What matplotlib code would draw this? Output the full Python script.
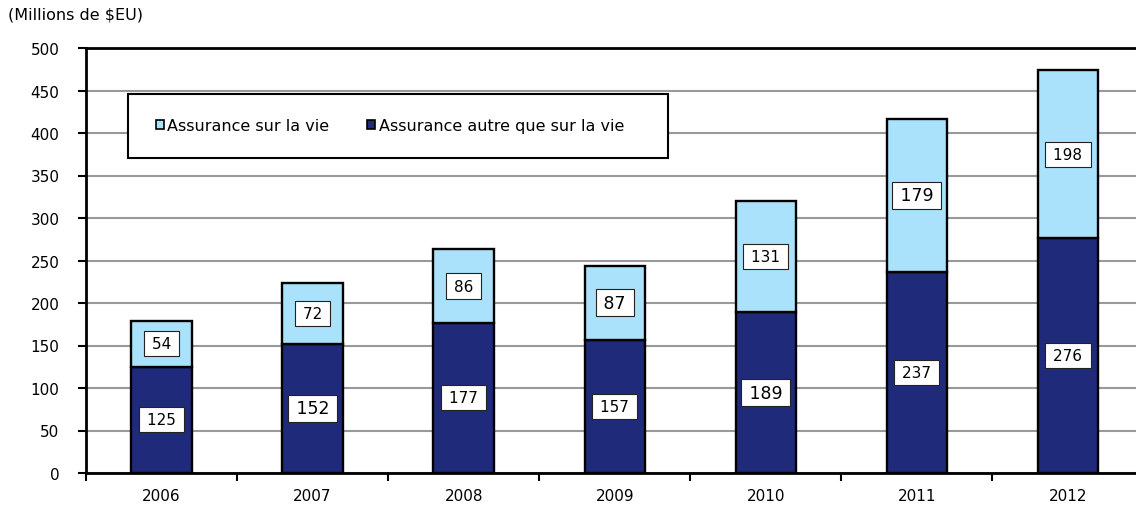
import matplotlib
matplotlib.use("Agg")
import matplotlib.pyplot as plt
from matplotlib.patches import Rectangle, Patch
import numpy as np

# données du graphique
annees = ['2006', '2007', '2008', '2009', '2010', '2011', '2012']
non_vie = [125, 152, 177, 157, 189, 237, 276]
vie = [54, 72, 86, 87, 131, 179, 198]
# étiquettes écrites en plus gros dans l'original
grosses_vie = [3, 5]
grosses_non_vie = [1, 4]

col_vie = '#aae1fb'
col_non_vie = '#202a7a'

plt.rcParams['font.family'] = 'DejaVu Sans'

fig = plt.figure(figsize=(11.36, 5.06), dpi=100)
ax = fig.add_axes([86 / 1136, 32 / 506, 1057.5 / 1136, 425 / 506])

x = np.arange(len(annees))
ax.bar(x, non_vie, width=0.4, color=col_non_vie, edgecolor='black', linewidth=1.7, zorder=3)
ax.bar(x, vie, width=0.4, bottom=non_vie, color=col_vie, edgecolor='black', linewidth=1.7, zorder=3)


def etiquette(xx, yy, val, gros):
    fs, pad = (12.5, 0.25) if gros else (11, 0.33)
    txt = '\u2009' + str(val) + '\u2009'
    ax.text(xx, yy, txt, ha='center', va='center', fontsize=fs, zorder=5,
            bbox=dict(boxstyle='square,pad=%.2f' % pad, facecolor='white',
                      edgecolor='#222222', linewidth=0.8))


for i in range(len(annees)):
    etiquette(x[i], non_vie[i] / 2, non_vie[i], i in grosses_non_vie)
    etiquette(x[i], non_vie[i] + vie[i] / 2, vie[i], i in grosses_vie)

ax.set_xlim(-0.5, len(annees) - 0.5)
ax.set_ylim(0, 500)
ax.set_yticks(np.arange(0, 501, 50))
ax.yaxis.grid(True, color='#999999', linewidth=1.5, zorder=0)
ax.set_axisbelow(True)

ax.set_xticks(x)
ax.set_xticklabels(annees)
ax.set_xticks(np.arange(-0.5, len(annees), 1), minor=True)
ax.tick_params(axis='x', which='major', length=0, pad=11, labelsize=11)
ax.tick_params(axis='x', which='minor', length=6, width=1.5, direction='out')
ax.tick_params(axis='y', length=6, width=1.5, direction='out', pad=13, labelsize=11)

for s in ['left', 'bottom', 'top']:
    ax.spines[s].set_linewidth(2)
    ax.spines[s].set_color('black')
ax.spines['right'].set_visible(False)

# cadre de la légende
ax.add_patch(Rectangle((0.0397, 0.741), 0.5107, 0.151, transform=ax.transAxes,
                       facecolor='white', edgecolor='black', linewidth=1.5, zorder=6))
poignees = [Patch(facecolor=col_vie, edgecolor='black', linewidth=1.2),
            Patch(facecolor=col_non_vie, edgecolor='black', linewidth=1.2)]
leg = ax.legend(poignees, ['Assurance sur la vie', 'Assurance autre que sur la vie'],
                loc='center left', bbox_to_anchor=(0.066, 0.8165), ncol=2,
                frameon=False, fontsize=11.5, handlelength=0.5, handleheight=0.5,
                handletextpad=0.2, columnspacing=2.4, borderpad=0, borderaxespad=0)
leg.set_zorder(7)

fig.text(8 / 1136, 1 - 15 / 506, '(Millions de $EU)', fontsize=11.5, va='center', ha='left')

fig.savefig('out.png', dpi=100)
